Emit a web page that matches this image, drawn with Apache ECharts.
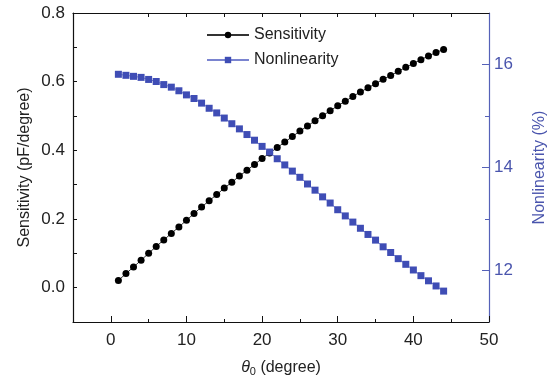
<!DOCTYPE html>
<html><head><meta charset="utf-8">
<script src="https://cdn.jsdelivr.net/npm/echarts@6/dist/echarts.min.js"></script>
<style>html,body{margin:0;padding:0;background:#fff}#c{width:551px;height:379px}</style>
</head><body><div id="c"></div>
<script>
const angles = [1,2,3,4,5,6,7,8,9,10,11,12,13,14,15,16,17,18,19,20,21,22,23,24,25,26,27,28,29,30,31,32,33,34,35,36,37,38,39,40,41,42,43,44];
const sensitivity = [0.021,0.041,0.060,0.080,0.100,0.120,0.139,0.158,0.177,0.196,0.216,0.235,0.253,0.271,0.290,0.307,0.325,0.342,0.359,0.376,0.392,0.408,0.424,0.440,0.456,0.471,0.486,0.501,0.515,0.530,0.543,0.557,0.570,0.582,0.594,0.607,0.618,0.630,0.642,0.653,0.664,0.675,0.685,0.694];
const nonlinearity = [15.81,15.79,15.77,15.75,15.71,15.67,15.61,15.56,15.49,15.41,15.34,15.25,15.15,15.06,14.96,14.85,14.75,14.64,14.53,14.41,14.30,14.17,14.05,13.93,13.81,13.68,13.56,13.43,13.31,13.18,13.06,12.94,12.82,12.70,12.59,12.46,12.35,12.23,12.12,12.01,11.90,11.80,11.70,11.60];
const xMajor = [0,10,20,30,40,50];
const xMinor = [5,15,25,35,45];
const xTop = [5,10,15,20,25,30,35,40,45];
const yLeftLabels = [0,0.2,0.4,0.6,0.8];
const yLeftTicks = [0,0.1,0.2,0.3,0.4,0.5,0.6,0.7];
const yRightLabels = [12,14,16];
const yRightMinor = [13,15];

const FONT = 'Liberation Sans, Arial, sans-serif';
const BLUE = '#3f4db5';
const BLUE_AX = '#5561b8';
const chart = echarts.init(document.getElementById('c'), null, {renderer:'canvas'});
const s1 = angles.map((a,i)=>[a, sensitivity[i]]);
const s2 = angles.map((a,i)=>[a, nonlinearity[i]]);
chart.setOption({
  animation:false,
  grid:{left:73,right:62,top:13,bottom:57,containLabel:false,outerBoundsMode:'none'},
  legend:{
    orient:'vertical', left:201, top:22, itemWidth:42, itemHeight:8, itemGap:9,
    lineStyle:{width:2},
    textStyle:{fontFamily:FONT,fontSize:16,color:'#222',padding:[0,0,0,0]},
    data:['Sensitivity','Nonlinearity']
  },
  xAxis:[
    {type:'value',position:'bottom',min:-5,max:50,
     axisLine:{show:true,onZero:false,lineStyle:{color:'#111',width:1.2}},
     axisTick:{show:true,inside:true,length:6,customValues:xMajor,lineStyle:{color:'#111'}},
     axisLabel:{customValues:xMajor,fontFamily:FONT,fontSize:17,color:'#222',margin:10},
     splitLine:{show:false},
     name:'{i|θ}{s|0} (degree)',nameLocation:'middle',nameGap:36,nameMoveOverlap:false,
     nameTextStyle:{fontFamily:FONT,fontSize:16,color:'#222',
       rich:{i:{fontFamily:FONT,fontSize:16,fontStyle:'italic',color:'#222'},
             s:{fontFamily:FONT,fontSize:11,color:'#222',verticalAlign:'bottom',padding:[8,0,0,0]}}}},
    {type:'value',position:'bottom',min:-5,max:50,
     axisLine:{show:false,onZero:false},
     axisTick:{show:true,inside:true,length:3,customValues:xMinor,lineStyle:{color:'#111'}},
     axisLabel:{show:false},splitLine:{show:false}},
    {type:'value',position:'top',min:-5,max:50,
     axisLine:{show:true,onZero:false,lineStyle:{color:'#111',width:1.2}},
     axisTick:{show:true,inside:true,length:4,customValues:xTop,lineStyle:{color:'#111'}},
     axisLabel:{show:false},splitLine:{show:false}}
  ],
  yAxis:[
    {type:'value',position:'left',min:-0.1,max:0.8,
     axisLine:{show:true,onZero:false,lineStyle:{color:'#111',width:1.2}},
     axisTick:{show:true,inside:true,length:4,customValues:yLeftTicks,lineStyle:{color:'#111'}},
     axisLabel:{customValues:yLeftLabels,formatter:v=>Number(v).toFixed(1),fontFamily:FONT,fontSize:17,color:'#222',margin:8},
     splitLine:{show:false},
     name:'Sensitivity (pF/degree)',nameLocation:'middle',nameGap:40,nameMoveOverlap:false,
     nameTextStyle:{fontFamily:FONT,fontSize:16,color:'#222'}},
    {type:'value',position:'right',min:11,max:17,
     axisLine:{show:true,onZero:false,lineStyle:{color:BLUE_AX,width:1.2}},
     axisTick:{show:true,inside:true,length:7,customValues:yRightLabels,lineStyle:{color:BLUE_AX}},
     axisLabel:{customValues:yRightLabels,fontFamily:FONT,fontSize:17,color:'#4a55ad',margin:5},
     splitLine:{show:false},
     name:'Nonlinearity (%)',nameLocation:'middle',nameGap:43,nameMoveOverlap:false,
     nameTextStyle:{fontFamily:FONT,fontSize:16,color:'#4a55ad'}},
    {type:'value',position:'right',min:11,max:17,
     axisLine:{show:false,onZero:false},
     axisTick:{show:true,inside:true,length:4,customValues:yRightMinor,lineStyle:{color:BLUE_AX}},
     axisLabel:{show:false},splitLine:{show:false}}
  ],
  series:[
    {name:'Sensitivity',type:'line',xAxisIndex:0,yAxisIndex:0,data:s1,
     symbol:'circle',symbolSize:7,
     lineStyle:{color:'#333',width:1},itemStyle:{color:'#000'}},
    {name:'Nonlinearity',type:'line',xAxisIndex:0,yAxisIndex:1,data:s2,
     symbol:'rect',symbolSize:7,
     lineStyle:{color:'#7a84d0',width:1},itemStyle:{color:BLUE}}
  ]
});
</script></body></html>
